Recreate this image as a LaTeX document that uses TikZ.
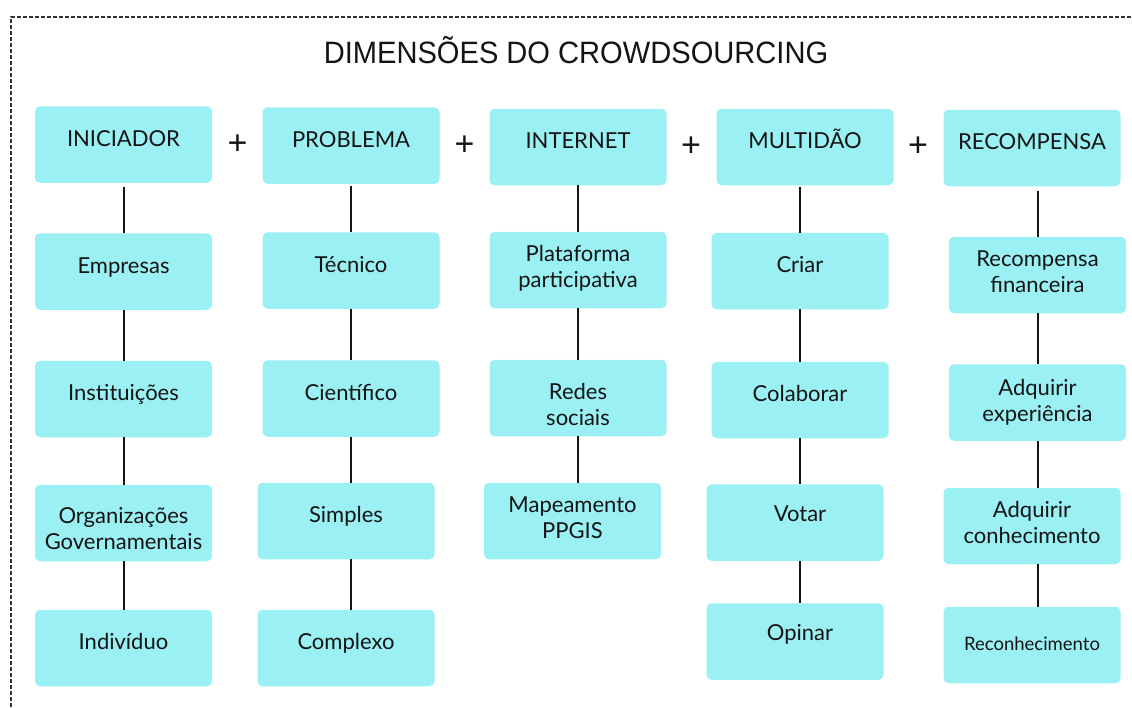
\documentclass[tikz,border=0pt]{standalone}
\usepackage{fontspec}
\setmainfont{Lato}
\newfontfamily\headfont{Liberation Sans}
\definecolor{boxcyan}{RGB}{154,240,243}
\definecolor{ink}{RGB}{20,20,20}
\begin{document}
\begin{tikzpicture}[x=1pt,y=-1pt,
  box/.style={fill=boxcyan, rounded corners=5pt, minimum width=177pt,
    minimum height=76.5pt, inner sep=0pt, align=center, text=ink,
    font=\fontsize{22}{26}\selectfont, text height=16pt, text depth=13pt},
  tb/.style={text height=16pt, text depth=#1},
  two/.style={text height=#1, text depth=5pt},
  link/.style={line width=2.4pt, ink},
  plus/.style={font=\headfont\fontsize{34}{34}\selectfont, inner sep=0pt, text=ink},
  frame/.style={line width=1.1pt, black!80, dash pattern=on 4pt off 2pt}
]
\useasboundingbox (0,0) rectangle (1132,707);

% dashed frame, open to the right and bottom
\draw[frame] (11,707) -- (11,17) -- (1132,17);

% title
\node[font=\headfont\fontsize{30}{30}\selectfont, anchor=base, inner sep=0pt, text=ink]
  (title) at (576,63) {\scalebox{0.97}[1.03]{DIMENSÕES DO CROWDSOURCING}};

% column axes for the vertical links
\coordinate (c1) at (124,0);
\coordinate (c2) at (351,0);
\coordinate (c3) at (578,0);
\coordinate (c4) at (800,0);
\coordinate (c5) at (1038,0);

% headers
\node[box] (ini) at (123.5,144.5) {INICIADOR};
\node[box] (pro) at (351,145.5) {PROBLEMA};
\node[box] (int) at (578,147) {INTERNET};
\node[box] (mul) at (805,147) {MULTIDÃO};
\node[box] (rec) at (1032,148) {RECOMPENSA};

\node[plus] (p1) at (237.5,144.5) {+};
\node[plus] (p2) at (464.5,146) {+};
\node[plus] (p3) at (691,147) {+};
\node[plus] (p4) at (918,147) {+};

% INICIADOR column
\node[box] (emp) at (123.5,271.5) {Empresas};
\node[box] (ins) at (123.5,399) {Instituições};
\node[box, two=57.5pt] (org) at (123.5,523) {Organizações\\Governamentais};
\node[box] (ind) at (123.5,648) {Indivíduo};

% PROBLEMA column
\node[box] (tec) at (351,270.5) {Técnico};
\node[box] (cie) at (351,398.5) {Científico};
\node[box] (sim) at (346,521) {Simples};
\node[box] (com) at (346,648) {Complexo};

% INTERNET column
\node[box, two=40pt] (pla) at (578,270) {Plataforma\\participativa};
\node[box, two=60pt] (red) at (578,398) {Redes\\sociais};
\node[box, two=40pt] (map) at (572.5,521) {Mapeamento\\PPGIS};

% MULTIDÃO column
\node[box] (cri) at (800,271) {Criar};
\node[box] (col) at (800,400) {Colaborar};
\node[box, tb=19pt] (vot) at (795,522.5) {\hspace*{10pt}Votar};
\node[box, tb=19pt] (opi) at (795,641.5) {\hspace*{10pt}Opinar};

% RECOMPENSA column
\node[box, two=40pt] (fin) at (1037.5,275) {Recompensa\\financeira};
\node[box, two=42pt] (exp) at (1037.5,402.5) {Adquirir\\experiência};
\node[box, two=40pt] (con) at (1032,526) {Adquirir\\conhecimento};
\node[box, tb=6pt, font=\fontsize{18.5}{22}\selectfont] (rco) at (1032,645) {Reconhecimento};

% links
\draw[link, shorten <=4pt] (ini.south -| c1) -- (emp.north -| c1);
\draw[link] (emp.south -| c1) -- (ins.north -| c1);
\draw[link] (ins.south -| c1) -- (org.north -| c1);
\draw[link] (org.south -| c1) -- (ind.north -| c1);

\draw[link, shorten <=2pt] (pro.south -| c2) -- (tec.north -| c2);
\draw[link] (tec.south -| c2) -- (cie.north -| c2);
\draw[link] (cie.south -| c2) -- (sim.north -| c2);
\draw[link] (sim.south -| c2) -- (com.north -| c2);

\draw[link] (int.south -| c3) -- (pla.north -| c3);
\draw[link] (pla.south -| c3) -- (red.north -| c3);
\draw[link] (red.south -| c3) -- (map.north -| c3);

\draw[link, shorten <=2pt] (mul.south -| c4) -- (cri.north -| c4);
\draw[link] (cri.south -| c4) -- (col.north -| c4);
\draw[link] (col.south -| c4) -- (vot.north -| c4);
\draw[link] (vot.south -| c4) -- (opi.north -| c4);

\draw[link, shorten <=5pt] (rec.south -| c5) -- (fin.north -| c5);
\draw[link] (fin.south -| c5) -- (exp.north -| c5);
\draw[link] (exp.south -| c5) -- (con.north -| c5);
\draw[link] (con.south -| c5) -- (rco.north -| c5);
\end{tikzpicture}
\end{document}
